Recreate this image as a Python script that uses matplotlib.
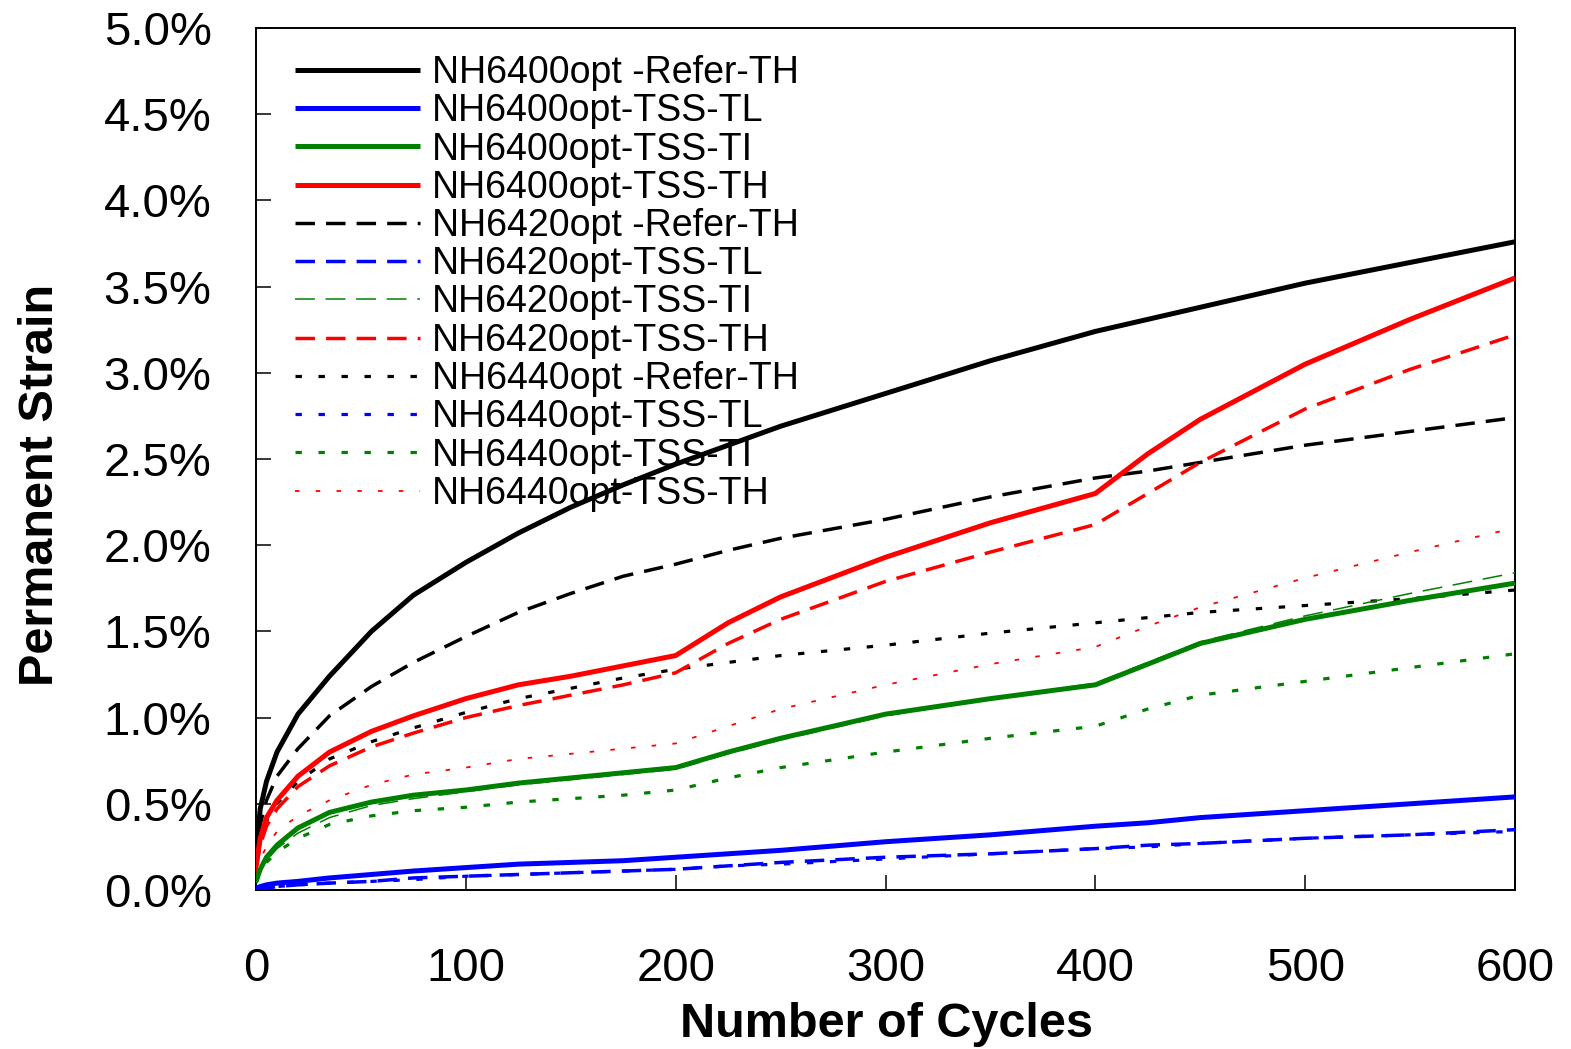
import matplotlib
matplotlib.use("Agg")
import matplotlib.pyplot as plt
from matplotlib.ticker import FuncFormatter, MultipleLocator

plt.rcParams['font.family'] = ['Liberation Sans', 'DejaVu Sans']

# Loading cycles at which the permanent strain was sampled
cycles = [0, 2, 5, 10, 20, 35, 55, 75, 100, 125, 150, 175, 200, 225, 250,
          300, 350, 400, 425, 450, 500, 550, 600]

# Permanent strain (%) for each mixture / test configuration
nh6400_refer_th = [0.20, 0.47, 0.63, 0.80, 1.02, 1.24, 1.50, 1.71, 1.90, 2.07, 2.22, 2.35, 2.47,
                   2.58, 2.69, 2.88, 3.07, 3.24, 3.31, 3.38, 3.52, 3.64, 3.76]
nh6400_tss_tl = [0.01, 0.02, 0.03, 0.04, 0.05, 0.07, 0.09, 0.11, 0.13, 0.15, 0.16, 0.17, 0.19,
                 0.21, 0.23, 0.28, 0.32, 0.37, 0.39, 0.42, 0.46, 0.50, 0.54]
nh6400_tss_ti = [0.05, 0.12, 0.19, 0.26, 0.36, 0.45, 0.51, 0.55, 0.58, 0.62, 0.65, 0.68, 0.71,
                 0.80, 0.88, 1.02, 1.11, 1.19, 1.31, 1.43, 1.57, 1.68, 1.78]
nh6400_tss_th = [0.14, 0.30, 0.42, 0.52, 0.66, 0.80, 0.92, 1.01, 1.11, 1.19, 1.24, 1.30, 1.36,
                 1.55, 1.70, 1.93, 2.13, 2.30, 2.53, 2.73, 3.05, 3.31, 3.55]
nh6420_refer_th = [0.15, 0.38, 0.52, 0.66, 0.82, 1.01, 1.18, 1.32, 1.47, 1.61, 1.72, 1.82, 1.89,
                   1.97, 2.04, 2.15, 2.28, 2.39, 2.43, 2.48, 2.58, 2.66, 2.74]
nh6420_tss_tl = [0.00, 0.01, 0.01, 0.02, 0.03, 0.04, 0.05, 0.07, 0.08, 0.09, 0.10, 0.11, 0.12,
                 0.14, 0.16, 0.19, 0.21, 0.24, 0.26, 0.27, 0.30, 0.32, 0.35]
nh6420_tss_ti = [0.04, 0.11, 0.17, 0.24, 0.33, 0.42, 0.49, 0.53, 0.57, 0.61, 0.64, 0.67, 0.70,
                 0.79, 0.87, 1.01, 1.11, 1.20, 1.32, 1.44, 1.59, 1.72, 1.84]
nh6420_tss_th = [0.12, 0.26, 0.37, 0.47, 0.60, 0.72, 0.83, 0.91, 1.00, 1.07, 1.13, 1.19, 1.26,
                 1.43, 1.57, 1.79, 1.96, 2.12, 2.30, 2.48, 2.79, 3.02, 3.22]
nh6440_refer_th = [0.12, 0.28, 0.40, 0.50, 0.63, 0.76, 0.86, 0.94, 1.03, 1.11, 1.17, 1.23, 1.28,
                   1.32, 1.36, 1.42, 1.49, 1.55, 1.58, 1.61, 1.65, 1.69, 1.74]
nh6440_tss_tl = [0.00, 0.01, 0.01, 0.02, 0.03, 0.04, 0.05, 0.06, 0.08, 0.09, 0.10, 0.11, 0.12,
                 0.14, 0.15, 0.18, 0.21, 0.24, 0.25, 0.27, 0.30, 0.32, 0.34]
nh6440_tss_ti = [0.04, 0.10, 0.16, 0.22, 0.30, 0.38, 0.43, 0.46, 0.48, 0.51, 0.53, 0.55, 0.58,
                 0.65, 0.71, 0.80, 0.88, 0.95, 1.05, 1.13, 1.21, 1.29, 1.37]
nh6440_tss_th = [0.10, 0.18, 0.25, 0.34, 0.43, 0.52, 0.61, 0.67, 0.71, 0.76, 0.79, 0.82, 0.85,
                 0.95, 1.05, 1.19, 1.31, 1.41, 1.53, 1.64, 1.81, 1.96, 2.10]

labels = ["NH6400opt -Refer-TH", "NH6400opt-TSS-TL", "NH6400opt-TSS-TI", "NH6400opt-TSS-TH",
          "NH6420opt -Refer-TH", "NH6420opt-TSS-TL", "NH6420opt-TSS-TI", "NH6420opt-TSS-TH",
          "NH6440opt -Refer-TH", "NH6440opt-TSS-TL", "NH6440opt-TSS-TI", "NH6440opt-TSS-TH"]

series = [nh6400_refer_th, nh6400_tss_tl, nh6400_tss_ti, nh6400_tss_th,
          nh6420_refer_th, nh6420_tss_tl, nh6420_tss_ti, nh6420_tss_th,
          nh6440_refer_th, nh6440_tss_tl, nh6440_tss_ti, nh6440_tss_th]

BLACK, BLUE, GREEN, RED = "#000000", "#0000FF", "#008000", "#FF0000"
colors = [BLACK, BLUE, GREEN, RED] * 3

# (linewidth, dash pattern) per line
styles = [
    (3.6, None), (3.6, None), (3.6, None), (3.6, None),
    (2.5, (5.6, 3.2)), (2.5, (5.6, 3.2)), (1.1, (13.0, 7.0)), (2.5, (5.6, 3.2)),
    (2.3, (2.0, 5.2)), (2.3, (2.0, 5.2)), (2.3, (2.0, 5.2)), (1.3, (2.5, 9.0)),
]
zorders = [5, 5, 5, 5, 4, 4, 6, 4, 3, 2, 3, 3]

W, H = 1571, 1049
fig = plt.figure(figsize=(W / 100, H / 100), dpi=100)
ax = fig.add_axes([256 / W, 1 - 890 / H, (1515 - 256) / W, (890 - 28) / H])

handles = []
for y, lab, c, (lw, dash), z in zip(series, labels, colors, styles, zorders):
    vals = [v / 100 for v in y]
    if dash is None:
        ln, = ax.plot(cycles, vals, color=c, lw=lw, label=lab, zorder=z,
                      solid_capstyle="butt")
    else:
        ln, = ax.plot(cycles, vals, color=c, lw=lw, label=lab, zorder=z,
                      dashes=dash, dash_capstyle="butt")
    handles.append(ln)

ax.set_xlim(0, 600)
ax.set_ylim(0, 0.05)
ax.xaxis.set_major_locator(MultipleLocator(100))
ax.yaxis.set_major_locator(MultipleLocator(0.005))
ax.yaxis.set_major_formatter(FuncFormatter(lambda v, p: f"{v * 100:.1f}%"))

ax.tick_params(axis="both", direction="in", length=10.8, width=1.1,
               labelsize=34, top=False, right=False)
ax.tick_params(axis="y", pad=32)
ax.tick_params(axis="x", pad=41)
for s in ax.spines.values():
    s.set_linewidth(1.4)

fig.text(886 / W, 1 - 1037 / H, "Number of Cycles", ha="center", va="baseline",
         fontsize=35, fontweight="bold")
fig.text(53 / W, 1 - 485 / H, "Permanent Strain", ha="center", va="baseline",
         rotation=90, rotation_mode="anchor", fontsize=35, fontweight="bold")

leg = ax.legend(handles=handles, loc="upper left",
                bbox_to_anchor=(295 / W, 1 - 55 / H), bbox_transform=fig.transFigure,
                frameon=False, fontsize=27, handlelength=3.33, handletextpad=0.32,
                labelspacing=0.06, borderpad=0, borderaxespad=0)

fig.savefig("out.png", dpi=100)
